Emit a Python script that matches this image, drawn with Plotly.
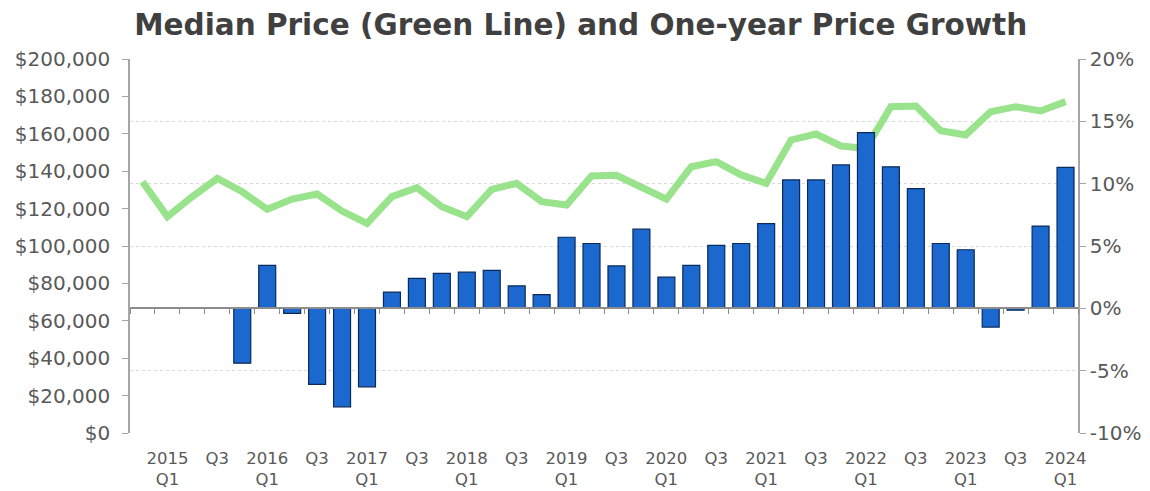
import plotly.graph_objects as go

quarters = ["2014 Q4",
            "2015 Q1", "2015 Q2", "2015 Q3", "2015 Q4",
            "2016 Q1", "2016 Q2", "2016 Q3", "2016 Q4",
            "2017 Q1", "2017 Q2", "2017 Q3", "2017 Q4",
            "2018 Q1", "2018 Q2", "2018 Q3", "2018 Q4",
            "2019 Q1", "2019 Q2", "2019 Q3", "2019 Q4",
            "2020 Q1", "2020 Q2", "2020 Q3", "2020 Q4",
            "2021 Q1", "2021 Q2", "2021 Q3", "2021 Q4",
            "2022 Q1", "2022 Q2", "2022 Q3", "2022 Q4",
            "2023 Q1", "2023 Q2", "2023 Q3", "2023 Q4",
            "2024 Q1"]

median_price = [134400, 115700, 126400, 136200, 129000,
                119600, 125100, 127800, 118700,
                112100, 126400, 131200, 121000,
                115700, 130300, 133500, 123700,
                121900, 137400, 137800, 131400,
                125100, 142400, 145100, 138000,
                133500, 156700, 159900, 153500,
                152200, 174500, 174900, 161700,
                159400, 171800, 174500, 172200,
                177200]

growth_pct = [None, None, None, None, -4.4,
              3.45, -0.4, -6.1, -7.9,
              -6.3, 1.3, 2.4, 2.8,
              2.9, 3.05, 1.8, 1.1,
              5.7, 5.2, 3.4, 6.35,
              2.5, 3.45, 5.05, 5.2,
              6.8, 10.3, 10.3, 11.5,
              14.1, 11.35, 9.6, 5.2,
              4.7, -1.5, -0.15, 6.6,
              11.3]

tick_cats = ["2015 Q1", "2015 Q3", "2016 Q1", "2016 Q3", "2017 Q1", "2017 Q3",
             "2018 Q1", "2018 Q3", "2019 Q1", "2019 Q3", "2020 Q1", "2020 Q3",
             "2021 Q1", "2021 Q3", "2022 Q1", "2022 Q3", "2023 Q1", "2023 Q3",
             "2024 Q1"]
tick_text = ["2015<br>Q1", "Q3", "2016<br>Q1", "Q3", "2017<br>Q1", "Q3",
             "2018<br>Q1", "Q3", "2019<br>Q1", "Q3", "2020<br>Q1", "Q3",
             "2021<br>Q1", "Q3", "2022<br>Q1", "Q3", "2023<br>Q1", "Q3",
             "2024<br>Q1"]

pct_tickvals = [-0.10, -0.05, 0.0, 0.05, 0.10, 0.15, 0.20]
pct_ticktext = ["-10%", "-5%", "0%", "5%", "10%", "15%", "20%"]

growth = [None if g is None else g / 100 for g in growth_pct]

FONT = "DejaVu Sans"
TXT = "#595959"
AX = "#A6A6A6"

fig = go.Figure()
fig.add_trace(go.Scatter(
    x=quarters, y=median_price, mode="lines",
    line=dict(color="#98E38B", width=7),
    xaxis="x", yaxis="y", showlegend=False, hoverinfo="skip"))
fig.add_trace(go.Bar(
    x=quarters, y=growth, width=0.68,
    marker=dict(color="#1B68CF", line=dict(color="#0A2A5A", width=1.2)),
    xaxis="x2", yaxis="y2", showlegend=False))

fig.update_layout(
    width=1150, height=491,
    margin=dict(l=122, r=80, t=51, b=66, autoexpand=False),
    paper_bgcolor="white", plot_bgcolor="white",
    font=dict(family=FONT, color=TXT, size=16),
    title=dict(text="<b>Median Price (Green Line) and One-year Price Growth</b>",
               x=0.498, xanchor="center", y=0.966, yanchor="middle",
               font=dict(family=FONT, size=29.5, color="#404040")),
    xaxis=dict(type="category", categoryorder="array", categoryarray=quarters,
               range=[-0.5, 37.5], tickmode="array", tickvals=tick_cats,
               ticktext=tick_text, showline=False, showgrid=False, ticks="",
               ticklabelstandoff=13, automargin=False,
               tickfont=dict(size=16.5, color=TXT)),
    xaxis2=dict(type="category", categoryorder="array", categoryarray=quarters,
                range=[-0.5, 37.5], overlaying="x", anchor="free", position=1/3,
                showline=True, linecolor="#8C8C8C", linewidth=1.5,
                ticks="outside", ticklen=5, tickcolor="#8C8C8C", tickwidth=1,
                tickson="boundaries", showticklabels=False, showgrid=False,
                automargin=False),
    yaxis=dict(range=[0, 200000], dtick=20000, tickprefix="$", tickformat=",",
               showgrid=False, showline=True, linecolor=AX, linewidth=1.5,
               ticks="outside", ticklen=6, tickcolor=AX, zeroline=False,
               ticklabelstandoff=8, automargin=False,
               tickfont=dict(size=20, color=TXT)),
    yaxis2=dict(range=[-0.10, 0.20], tickmode="array", tickvals=pct_tickvals,
                ticktext=pct_ticktext,
                overlaying="y", side="right", anchor="x2",
                showgrid=True, gridcolor="#D9D9D9", griddash="dot", gridwidth=1,
                showline=True, linecolor=AX, linewidth=1.5,
                ticks="outside", ticklen=6, tickcolor=AX, zeroline=False,
                automargin=False,
                tickfont=dict(size=20, color=TXT)),
)

fig.write_html("out.html")
